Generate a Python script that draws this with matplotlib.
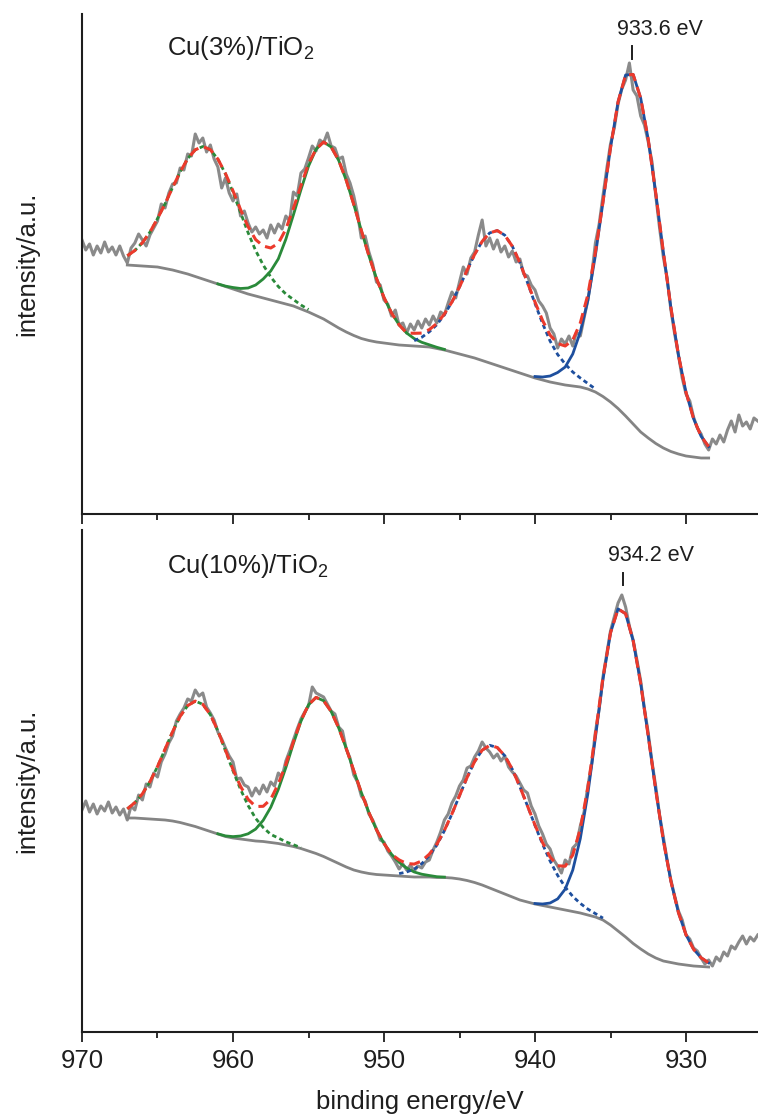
import numpy as np
import matplotlib
matplotlib.use("Agg")
import matplotlib.pyplot as plt

plt.rcParams['font.family'] = ['Liberation Sans', 'DejaVu Sans']
plt.rcParams['mathtext.fontset'] = 'custom'
plt.rcParams['mathtext.rm'] = 'Liberation Sans'
plt.rcParams['mathtext.it'] = 'Liberation Sans:italic'
plt.rcParams['mathtext.bf'] = 'Liberation Sans:bold'

# ---------------- data ----------------
# energy grids (binding energy, eV)
RAW_START, RAW_STEP = 970.0, 0.25      # raw spectrum: 970.00 -> 925.25
FIT_START, FIT_STEP = 967.0, 0.5       # fitted curves: 967.0 -> 928.5

x_major = [970, 960, 950, 940, 930]
x_minor = [965, 955, 945, 935]

sample_names = ["Cu(3%)/TiO$_2$", "Cu(10%)/TiO$_2$"]
peak_labels = [933.6, 934.2]

# ---- Cu(3%)/TiO2 ----
raw_3 = [
    274, 264, 270, 259,  268, 261, 272, 262,  267, 259, 268, 258,
    251, 266, 271, 280,  274, 268, 279, 286,  293, 310, 306, 321,
    330, 331, 346, 344,  360, 358, 380, 371,  376, 362, 369, 355,
    347, 326, 336, 321,  313, 320, 298, 303,  291, 282, 287, 280,
    284, 276, 289, 281,  290, 285, 298, 293,  322, 318, 341, 345,
    356, 368, 363, 374,  371, 381, 368, 366,  355, 357, 340, 331,
    318, 300, 276, 278,  262, 250, 232, 229,  214, 210, 198, 204,
    189, 191, 181, 190,  184, 193, 186, 195,  189, 198, 191, 202,
    199, 211, 222, 216,  232, 247, 240, 256,  262, 279, 294, 268,
    276, 265, 274, 262,  268, 257, 263, 252,  255, 240, 238, 229,
    224, 213, 208, 201,  186, 180, 166, 175,  170, 178, 168, 182,
    178, 196, 214, 238,  271, 290, 318, 345,  370, 386, 410, 425,
    434, 451, 424, 418,  398, 389, 372, 352,  318, 286, 257, 236,
    204, 180, 159, 136,  120, 113, 97, 86,   80, 70, 64, 75,
    70, 79, 72, 84,      93, 82, 99, 88,     92, 85, 96, 93,
]
bg_3 = [
    249, 248.5, 248, 247.5, 247, 245.5, 244, 242, 240, 237.5,
    235, 232.5, 230, 227.5, 225, 222.5, 220, 218, 216, 214,
    212, 210, 208, 205, 202, 198.5, 195, 190.5, 186, 182,
    178.5, 175.5, 173.5, 172, 171, 170, 169, 168.5, 168, 167.5,
    167, 165.5, 164, 162, 160, 158, 156, 153.5, 151, 148.5,
    146, 143.5, 141, 138.5, 136, 134, 132, 130.5, 129, 128,
    127, 125, 122, 117.5, 112, 105.5, 98, 90, 82, 76,
    70.5, 66, 62.5, 60, 58, 57, 56, 56,
]
# component peaks above background: (start energy, values every 0.5 eV)
sat2_3_start = 967.0   # green dotted, ~962 eV
sat2_3 = [9.2, 15.0, 23.3, 34.4, 48.4, 64.7, 82.5, 100.0, 115.4, 126.7, 132.5,
          131.8, 124.8, 112.6, 96.6, 78.9, 61.3, 45.4, 33.0, 23.0, 15.5, 10.0,
          6.5, 4.0, 2.5]
p12_3_start = 961.0    # green solid, Cu 2p1/2
p12_3 = [0.1, 0.4, 1.5, 3.0, 6.0, 11.0, 19.0, 29.0, 43.1, 64.8, 91.1, 119.3,
         145.8, 166.3, 177.0, 176.5, 167.6, 151.7, 131.0, 108.0, 84.8, 63.6,
         45.5, 31.0, 20.2, 12.5, 7.4, 4.2, 2.2, 1.2, 0.6]
sat1_3_start = 948.0   # blue dotted, ~942 eV
sat1_3 = [5.3, 9.2, 15.2, 23.8, 35.4, 50.0, 67.1, 85.6, 103.6, 119.1, 130.1,
          134.9, 132.8, 124.2, 110.3, 93.0, 74.5, 56.6, 40.9, 29.0, 21.0, 14.0,
          9.0, 5.5, 3.0]
p32_3_start = 940.0    # blue solid, Cu 2p3/2
p32_3 = [1.5, 3.0, 6.0, 11.0, 18.0, 32.0, 55.0, 88.7, 136.7, 194.1, 254.1,
         306.6, 341.0, 349.5, 333.8, 298.5, 250.0, 196.0, 143.9, 98.9, 63.7,
         38.4, 21.7, 11.4]

# ---- Cu(10%)/TiO2 ----
raw_10 = [
    222, 231, 220, 228,  218, 226, 221, 230,  219, 225, 217, 223,
    212, 226, 222, 237,  232, 248, 245, 259,  255, 270, 278, 289,
    296, 311, 318, 324,  333, 331, 342, 336,  339, 325, 319, 312,
    300, 293, 284, 276,  270, 253, 254, 247,  245, 236, 244, 238,
    247, 240, 250, 246,  259, 255, 271, 281,  292, 303, 313, 320,
    326, 345, 339, 337,  335, 328, 321, 318,  305, 301, 283, 274,
    257, 250, 236, 231,  218, 212, 203, 192,  190, 181, 176, 170,
    163, 168, 162, 167,  161, 166, 164, 170,  172, 182, 190, 200,
    212, 218, 229, 236,  246, 252, 264, 266,  275, 281, 290, 284,
    280, 274, 278, 271,  276, 265, 260, 256,  249, 242, 239, 226,
    218, 206, 198, 188,  183, 172, 166, 159,  172, 168, 184, 188,
    206, 220, 246, 268,  300, 323, 355, 378,  401, 415, 429, 437,
    425, 406, 392, 372,  351, 323, 299, 270,  245, 217, 195, 172,
    152, 136, 121, 112,  97, 93, 84, 81,     74, 68, 72, 66,
    75, 71, 80, 76,      86, 83, 90, 96,     88, 95, 91, 97,
]
bg_10 = [
    214, 214, 213.5, 213, 212.5, 212, 211, 209.5, 207.5, 205.5,
    203, 200.5, 198, 195.5, 194, 193, 192, 191, 190.5, 189.5,
    188.5, 187, 185.5, 183.5, 181, 178.5, 175.5, 172, 168.5, 165,
    162, 160, 158.5, 157.5, 157, 156.5, 156, 155.5, 155, 155,
    155, 154.5, 154.5, 154, 153, 151.5, 149.5, 147, 144, 141,
    138, 135, 132, 130, 128, 126.5, 125, 123.5, 122, 120.5,
    119, 117, 115, 112, 107, 101, 95, 88.5, 83, 78,
    74, 71, 69.5, 68, 67, 66, 65.5, 65,
]
sat2_10_start = 967.0
sat2_10 = [9.1, 15.4, 24.7, 37.3, 52.9, 70.8, 89.3, 106.2, 118.9, 125.4, 124.7,
           116.8, 103.0, 85.7, 67.1, 49.6, 34.5, 22.6, 14.0, 8.1, 5.5, 3.2,
           1.8, 0.8]
p12_10_start = 961.0
p12_10 = [0.2, 0.6, 1.4, 3.0, 6.2, 11.9, 21.2, 35.2, 54.1, 77.4, 102.9, 127.2,
          146.2, 156.1, 155.8, 148.5, 135.6, 118.5, 99.2, 79.5, 61.0, 44.8,
          31.5, 21.2, 13.7, 8.5, 5.0, 2.8, 1.5, 0.8, 0.4]
sat1_10_start = 949.0
sat1_10 = [2.4, 4.5, 7.9, 13.3, 21.3, 32.4, 46.8, 64.1, 83.4, 103.0, 120.9,
           134.8, 142.7, 143.5, 138.2, 127.7, 113.2, 96.2, 78.5, 61.4, 46.0,
           33.1, 22.9, 15.1, 9.6, 5.9, 3.4, 1.9]
p32_10_start = 940.0
p32_10 = [0.5, 1.5, 4.0, 9.6, 20.9, 41.4, 74.4, 121.3, 179.3, 240.3, 292.1,
          322.1, 323.3, 302.8, 265.4, 217.9, 167.5, 120.6, 81.3, 51.3, 30.3,
          16.8, 8.7, 4.2]

# ---------------- style ----------------
RAW_C = '#8a8a8a'
BG_C = '#848484'
GREEN = '#2a8a3a'
BLUE = '#1e4f9e'
RED = '#ec3a2c'
TXT = '#1e1e1e'

W, H = 758, 1120
fig = plt.figure(figsize=(W / 100, H / 100), dpi=100)
fig.patch.set_facecolor('white')

ax_top = fig.add_axes([82 / W, 1 - 514 / H, 676 / W, 500 / H])
ax_bot = fig.add_axes([82 / W, 1 - 1032 / H, 676 / W, 502 / H])

XLIM = (970, 970 - 676 / 15.1)


def segment(bg, start, vals):
    i0 = int(round((FIT_START - start) / FIT_STEP))
    n = len(vals)
    e = FIT_START - FIT_STEP * np.arange(i0, i0 + n)
    return i0, e, np.asarray(bg, float)[i0:i0 + n] + np.asarray(vals, float)


def draw_panel(ax, raw, bg, comps, ylim, name, peak_e, label_h):
    raw = np.asarray(raw, float)
    bg = np.asarray(bg, float)
    e_raw = RAW_START - RAW_STEP * np.arange(len(raw))
    e_fit = FIT_START - FIT_STEP * np.arange(len(bg))

    ax.plot(e_raw, raw, color=RAW_C, lw=2.2, zorder=2, solid_joinstyle='round')
    ax.plot(e_fit, bg, color=BG_C, lw=2.0, zorder=3, solid_joinstyle='round')

    env = bg.copy()
    for (start, vals, color, style) in comps:
        i0, e, y = segment(bg, start, vals)
        env[i0:i0 + len(vals)] += np.asarray(vals, float)
        if style == 'solid':
            ax.plot(e, y, color=color, lw=2.0, zorder=4, solid_joinstyle='round')
        else:
            ax.plot(e, y, color=color, lw=2.0, zorder=4, dashes=(1.6, 1.2))
    ax.plot(e_fit, env, color=RED, lw=2.2, zorder=5, dashes=(3.6, 2.0))

    ax.set_xlim(*XLIM)
    ax.set_ylim(*ylim)
    for s in ('top', 'right'):
        ax.spines[s].set_visible(False)
    for s in ('left', 'bottom'):
        ax.spines[s].set_linewidth(1.5)
        ax.spines[s].set_color(TXT)
    ax.set_yticks([])
    ax.set_xticks(x_major)
    ax.set_xticks(x_minor, minor=True)
    ax.tick_params(axis='x', which='major', direction='out', length=7.2,
                   width=1.3, color=TXT, labelsize=18.5, labelcolor=TXT, pad=5)
    ax.tick_params(axis='x', which='minor', direction='out', length=4.3,
                   width=1.3, color=TXT)
    ax.set_facecolor('white')

    ax.text(964.4, label_h[0], name, fontsize=18.5, color=TXT,
            ha='left', va='baseline')
    ax.text(peak_e + 0.97, label_h[1], f"{peak_e:.1f} eV", fontsize=15.5,
            color=TXT, ha='left', va='baseline', clip_on=False)
    ax.plot([peak_e, peak_e], [label_h[2], label_h[3]], color=TXT, lw=1.4,
            clip_on=False)


draw_panel(ax_top, raw_3, bg_3,
           [(sat2_3_start, sat2_3, GREEN, 'dot'),
            (p12_3_start, p12_3, GREEN, 'solid'),
            (sat1_3_start, sat1_3, BLUE, 'dot'),
            (p32_3_start, p32_3, BLUE, 'solid')],
           (0, 500), sample_names[0], peak_labels[0], (459, 479, 468, 455))

draw_panel(ax_bot, raw_10, bg_10,
           [(sat2_10_start, sat2_10, GREEN, 'dot'),
            (p12_10_start, p12_10, GREEN, 'solid'),
            (sat1_10_start, sat1_10, BLUE, 'dot'),
            (p32_10_start, p32_10, BLUE, 'solid')],
           (0, 502), sample_names[1], peak_labels[1], (459, 471, 459, 447))

ax_top.tick_params(axis='x', labelbottom=False)
ax_bot.set_xlabel("binding energy/eV", fontsize=18.5, color=TXT, labelpad=12)

fig.text(27 / W, 1 - 264 / H, "intensity/a.u.", rotation=90, fontsize=18.5,
         color=TXT, ha='center', va='center')
fig.text(27 / W, 1 - 781 / H, "intensity/a.u.", rotation=90, fontsize=18.5,
         color=TXT, ha='center', va='center')

fig.savefig("out.png", dpi=100, facecolor='white')
